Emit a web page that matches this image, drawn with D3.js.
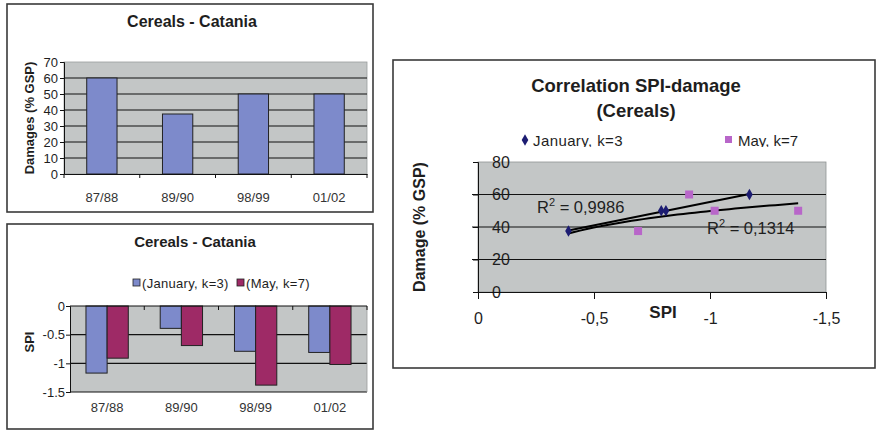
<!DOCTYPE html>
<html>
<head>
<meta charset="utf-8">
<script src="https://cdn.jsdelivr.net/npm/d3@7/dist/d3.min.js"></script>
<style>
  html, body { margin: 0; padding: 0; background: #fff; }
  svg { display: block; font-family: "Liberation Sans", Arial, sans-serif; }
</style>
</head>
<body>
<svg id="chart" width="876" height="433"></svg>
<script>
// ---- data ----
const seasons = ["87/88", "89/90", "98/99", "01/02"];
const damage = [60, 37.5, 50, 50];                 // % of gross saleable production
const spiJanuary = [-1.17, -0.39, -0.79, -0.81];    // SPI, January, k=3
const spiMay = [-0.91, -0.69, -1.38, -1.02];        // SPI, May, k=7
const damageTicks = [0, 10, 20, 30, 40, 50, 60, 70];
const spiTicks = [0, -0.5, -1, -1.5];
const spiTickLabels = ["0", "-0.5", "-1", "-1.5"];
const corrXTicks = [0, -0.5, -1, -1.5];
const corrXTickLabels = ["0", "-0,5", "-1", "-1,5"];
const corrYTicks = [0, 20, 40, 60, 80];
const r2Labels = ["0,9986", "0,1314"];

const C = {
  plot: "#c3c6c6", blue: "#7d8acb", maroon: "#9e2a66",
  navy: "#1c1c72", orchid: "#b866c9", frame: "#3a3a3a", text: "#1e1e1e"
};

const svg = d3.select("#chart");
svg.append("rect").attr("width", 876).attr("height", 433).attr("fill", "#fff");

function panel(x, y, w, h) {
  svg.append("rect").attr("x", x).attr("y", y).attr("width", w).attr("height", h)
    .attr("fill", "#fff").attr("stroke", C.frame).attr("stroke-width", 1.6);
}
function styleAxis(g, size) {
  g.selectAll("text").attr("fill", C.text).style("font-size", size + "px")
    .style("font-family", '"Liberation Sans", Arial, sans-serif');
  g.selectAll("line").attr("stroke", "#111");
  g.select(".domain").attr("stroke", "#111");
}

// ================= Damages bar chart =================
panel(7, 4, 366, 208);
{
  const x = d3.scaleBand().domain(seasons).range([64, 367]).paddingInner(0.6).paddingOuter(0.3);
  const y = d3.scaleLinear().domain([0, 70]).range([174, 62]);
  const g = svg.append("g");

  g.append("rect").attr("x", 64).attr("y", y(70)).attr("width", 303).attr("height", y(0) - y(70))
    .attr("fill", C.plot).attr("stroke", "#9a9d9d").attr("stroke-width", 0.8);
  g.selectAll("line.grid").data(damageTicks.filter(d => d > 0 && d < 70)).join("line")
    .attr("x1", 64).attr("x2", 367).attr("y1", d => y(d)).attr("y2", d => y(d))
    .attr("stroke", "#111").attr("stroke-width", 1.2);

  g.selectAll("rect.bar").data(seasons).join("rect")
    .attr("x", d => x(d)).attr("width", x.bandwidth())
    .attr("y", (d, i) => y(damage[i])).attr("height", (d, i) => y(0) - y(damage[i]))
    .attr("fill", C.blue).attr("stroke", "#222").attr("stroke-width", 1);

  const ya = g.append("g").attr("transform", "translate(64,0)")
    .call(d3.axisLeft(y).tickValues(damageTicks).tickSize(4).tickPadding(2));
  styleAxis(ya, 13);

  // category axis: labels centred, ticks on the category boundaries
  const xa = g.append("g").attr("transform", "translate(0,174)")
    .call(d3.axisBottom(x).tickSize(0).tickPadding(19));
  styleAxis(xa, 13);
  xa.selectAll("text").attr("fill", "#333");
  g.selectAll("line.bound").data(d3.range(seasons.length + 1)).join("line")
    .attr("x1", i => 64 + i * x.step()).attr("x2", i => 64 + i * x.step())
    .attr("y1", 174).attr("y2", 178).attr("stroke", "#111");

  g.append("text").attr("x", 192).attr("y", 27).attr("text-anchor", "middle")
    .attr("font-size", 16).attr("font-weight", "bold").attr("fill", C.text).text("Cereals - Catania");
  g.append("text").attr("transform", "translate(34,118) rotate(-90)").attr("text-anchor", "middle")
    .attr("font-size", 13).attr("font-weight", "bold").attr("fill", C.text).text("Damages (% GSP)");
}

// ================= SPI bar chart =================
panel(7, 224, 366, 205);
{
  const x0 = d3.scaleBand().domain(seasons).range([70, 367]).paddingInner(0.43).paddingOuter(0.215);
  const x1 = d3.scaleBand().domain(["jan", "may"]).range([0, x0.bandwidth()]);
  const y = d3.scaleLinear().domain([-1.5, 0]).range([392, 306]);
  const g = svg.append("g");

  g.append("rect").attr("x", 70).attr("y", y(0)).attr("width", 297).attr("height", y(-1.5) - y(0))
    .attr("fill", C.plot);
  g.selectAll("line.grid").data(spiTicks.filter(d => d < 0)).join("line")
    .attr("x1", 70).attr("x2", 367).attr("y1", d => y(d)).attr("y2", d => y(d))
    .attr("stroke", "#111").attr("stroke-width", 1.2);
  g.append("line").attr("x1", 367).attr("x2", 367).attr("y1", y(0)).attr("y2", y(-1.5))
    .attr("stroke", "#9a9d9d").attr("stroke-width", 0.8);

  const series = [
    { key: "jan", values: spiJanuary, color: C.blue },
    { key: "may", values: spiMay, color: C.maroon }
  ];
  series.forEach(s => {
    g.selectAll("rect.b-" + s.key).data(seasons).join("rect")
      .attr("x", d => x0(d) + x1(s.key)).attr("width", x1.bandwidth())
      .attr("y", y(0)).attr("height", (d, i) => y(s.values[i]) - y(0))
      .attr("fill", s.color).attr("stroke", "#222").attr("stroke-width", 1);
  });

  const ya = g.append("g").attr("transform", "translate(70,0)")
    .call(d3.axisLeft(y).tickValues(spiTicks).tickFormat((d, i) => spiTickLabels[i]).tickSize(4).tickPadding(1));
  styleAxis(ya, 13);

  // zero line with boundary ticks pointing into the plot
  g.append("line").attr("x1", 70).attr("x2", 367).attr("y1", y(0)).attr("y2", y(0))
    .attr("stroke", "#111").attr("stroke-width", 1.2);
  g.selectAll("line.bound").data(d3.range(1, seasons.length + 1)).join("line")
    .attr("x1", i => 70 + i * x0.step()).attr("x2", i => 70 + i * x0.step())
    .attr("y1", y(0)).attr("y2", y(0) + 4).attr("stroke", "#111");

  const xa = g.append("g").attr("transform", "translate(0,392)")
    .call(d3.axisBottom(x0).tickSize(0).tickPadding(11));
  styleAxis(xa, 13);
  xa.select(".domain").remove();
  xa.selectAll("text").attr("fill", "#333");

  g.append("text").attr("x", 195).attr("y", 247).attr("text-anchor", "middle")
    .attr("font-size", 15).attr("font-weight", "bold").attr("fill", C.text).text("Cereals - Catania");
  g.append("text").attr("transform", "translate(34,342) rotate(-90)").attr("text-anchor", "middle")
    .attr("font-size", 13).attr("font-weight", "bold").attr("fill", C.text).text("SPI");

  const legend = [
    { label: "(January, k=3)", color: C.blue, x: 133 },
    { label: "(May, k=7)", color: C.maroon, x: 237 }
  ];
  legend.forEach(l => {
    g.append("rect").attr("x", l.x).attr("y", 279).attr("width", 7).attr("height", 7)
      .attr("fill", l.color).attr("stroke", "#222").attr("stroke-width", 0.8);
    g.append("text").attr("x", l.x + 9).attr("y", 288).attr("font-size", 13)
      .attr("letter-spacing", 0.3).attr("fill", C.text).text(l.label);
  });
}

// ================= SPI vs damage scatter =================
panel(393, 60, 482, 308);
{
  const x = d3.scaleLinear().domain([0, -1.5]).range([478, 826]);
  const y = d3.scaleLinear().domain([0, 80]).range([292, 162]);
  const g = svg.append("g");

  g.append("rect").attr("x", 478).attr("y", y(80)).attr("width", 348).attr("height", y(0) - y(80))
    .attr("fill", C.plot).attr("stroke", "#8f9393").attr("stroke-width", 0.8);
  g.selectAll("line.grid").data(corrYTicks.filter(d => d > 0 && d < 80)).join("line")
    .attr("x1", 472).attr("x2", 826).attr("y1", d => y(d)).attr("y2", d => y(d))
    .attr("stroke", "#111").attr("stroke-width", 1.2);

  // trend lines
  const jan = spiJanuary.map((v, i) => [v, damage[i]]);
  const may = spiMay.map((v, i) => [v, damage[i]]);
  function linFit(pts) {
    const mx = d3.mean(pts, p => p[0]), my = d3.mean(pts, p => p[1]);
    const b = d3.sum(pts, p => (p[0] - mx) * (p[1] - my)) / d3.sum(pts, p => (p[0] - mx) ** 2);
    return v => my + b * (v - mx);
  }
  function logFit(pts) {
    const lp = pts.map(p => [Math.log(-p[0]), p[1]]);
    const f = linFit(lp);
    return v => f(Math.log(-v));
  }
  const janFit = linFit(jan);
  const janExt = d3.extent(spiJanuary);
  const mayFit = logFit(may);
  const allExt = d3.extent(spiJanuary.concat(spiMay));
  const line = d3.line().x(d => x(d[0])).y(d => y(d[1]));
  g.append("path").attr("d", line(janExt.map(v => [v, janFit(v)])))
    .attr("fill", "none").attr("stroke", "#000").attr("stroke-width", 2);
  const mayXs = d3.range(41).map(i => allExt[1] + (allExt[0] - allExt[1]) * i / 40);
  g.append("path").attr("d", line(mayXs.map(v => [v, mayFit(v)])))
    .attr("fill", "none").attr("stroke", "#000").attr("stroke-width", 2);

  // points
  const diamond = d3.symbol().type(d3.symbolDiamond).size(38);
  g.selectAll("path.jan").data(jan).join("path")
    .attr("transform", d => `translate(${x(d[0])},${y(d[1])})`).attr("d", diamond).attr("fill", C.navy);
  g.selectAll("rect.may").data(may).join("rect")
    .attr("x", d => x(d[0]) - 4).attr("y", d => y(d[1]) - 4).attr("width", 8).attr("height", 8)
    .attr("fill", C.orchid);

  // axes
  const ya = g.append("g").attr("transform", "translate(478,0)")
    .call(d3.axisLeft(y).tickValues(corrYTicks).tickSize(5));
  styleAxis(ya, 16);
  ya.selectAll("text").attr("text-anchor", "start").attr("x", 14);
  const xa = g.append("g").attr("transform", "translate(0,292)")
    .call(d3.axisBottom(x).tickValues(corrXTicks).tickFormat((d, i) => corrXTickLabels[i]).tickSize(7).tickPadding(14));
  styleAxis(xa, 16);

  // R² annotations
  function r2(tx, ty, val) {
    const t = g.append("text").attr("x", tx).attr("y", ty).attr("font-size", 16.5).attr("fill", C.text);
    t.append("tspan").text("R");
    t.append("tspan").attr("font-size", 11).attr("dy", -7).text("2");
    t.append("tspan").attr("dy", 7).text(" = " + val);
  }
  r2(537, 213, r2Labels[0]);
  r2(707, 234, r2Labels[1]);

  // titles
  g.append("text").attr("x", 636).attr("y", 92).attr("text-anchor", "middle")
    .attr("font-size", 18.5).attr("font-weight", "bold").attr("fill", C.text).text("Correlation SPI-damage");
  g.append("text").attr("x", 636).attr("y", 117).attr("text-anchor", "middle")
    .attr("font-size", 18.5).attr("font-weight", "bold").attr("fill", C.text).text("(Cereals)");
  g.append("text").attr("x", 663).attr("y", 318).attr("text-anchor", "middle")
    .attr("font-size", 17).attr("font-weight", "bold").attr("fill", C.text).text("SPI");
  g.append("text").attr("transform", "translate(425,227) rotate(-90)").attr("text-anchor", "middle")
    .attr("font-size", 16).attr("font-weight", "bold").attr("fill", C.text).text("Damage (% GSP)");

  // legend, clipped along its lower edge by the plot block
  svg.append("defs").append("clipPath").attr("id", "legclip")
    .append("rect").attr("x", 400).attr("y", 120).attr("width", 460).attr("height", 27);
  const lg = g.append("g").attr("clip-path", "url(#legclip)");
  lg.append("path").attr("transform", "translate(525,140)").attr("d", diamond).attr("fill", C.navy);
  lg.append("text").attr("x", 533).attr("y", 146).attr("font-size", 15).attr("fill", C.text)
    .attr("letter-spacing", 0.4).text("January, k=3");
  lg.append("rect").attr("x", 725).attr("y", 136).attr("width", 7).attr("height", 7).attr("fill", C.orchid);
  lg.append("text").attr("x", 738).attr("y", 146).attr("font-size", 15).attr("fill", C.text).text("May, k=7");
}
</script>
</body>
</html>
